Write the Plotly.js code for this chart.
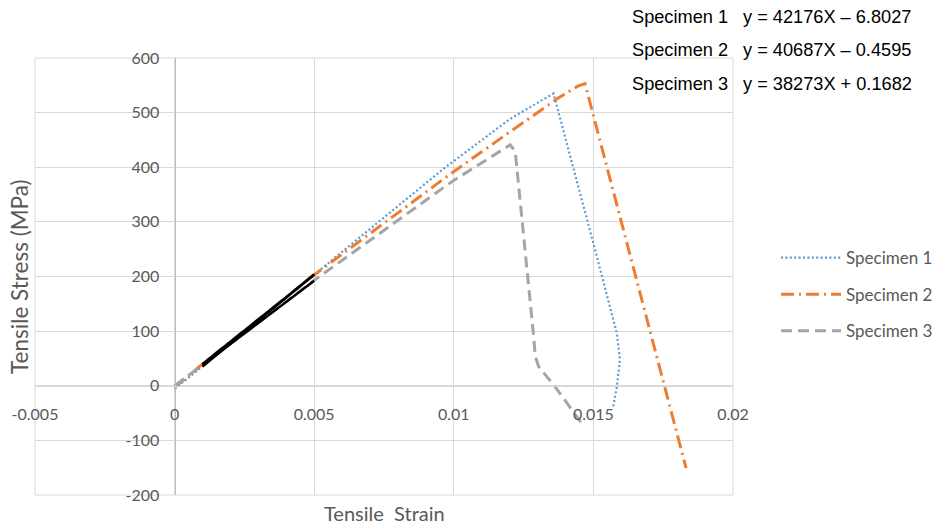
<!DOCTYPE html>
<html>
<head>
<meta charset="utf-8">
<script src="https://cdn.plot.ly/plotly-3.0.1.min.js"></script>
<style>html,body{margin:0;padding:0;background:#fff;}#chart{width:933px;height:529px;}</style>
</head>
<body>
<div id="chart"></div>
<script>
// ---- data ----
const seriesNames = ['Specimen 1', 'Specimen 2', 'Specimen 3'];

const spec1Strain = [0, 0.001, 0.005, 0.0096, 0.012, 0.0133, 0.01357, 0.01369, 0.01446, 0.01506, 0.01584, 0.01595, 0.01584, 0.01571];
const spec1Stress = [-6, 36, 204, 396, 488, 527, 535, 512, 365, 249, 96, 47, -2, -38];

const spec2Strain = [0, 0.001, 0.005, 0.00994, 0.01196, 0.01375, 0.01446, 0.0147, 0.01832];
const spec2Stress = [-3, 40, 203, 390, 463, 527, 549, 553, -151];

const spec3Strain = [0, 0.001, 0.005, 0.00994, 0.01202, 0.0122, 0.01286, 0.01292, 0.01304, 0.01363, 0.01458];
const spec3Stress = [0, 38, 193, 374, 441, 429, 90, 53, 35, -2, -69];

// linear fit segments (black) over the elastic range
const fitStrain = [0.001, 0.005];
const fit1Stress = [35, 204];
const fit2Stress = [40, 203];
const fit3Stress = [38, 192];

const fitNames = ['Specimen 1', 'Specimen 2', 'Specimen 3'];
const fitEquations = ['y = 42176X \u2013 6.8027', 'y = 40687X \u2013 0.4595', 'y = 38273X + 0.1682'];

const xTickVals = [-0.005, 0, 0.005, 0.01, 0.015, 0.02];
const xTickText = ['-0.005', '0', '0.005', '0.01', '0.015', '0.02'];
const yTickVals = [-200, -100, 0, 100, 200, 300, 400, 500, 600];
const yTickText = ['-200', '-100', '0', '100', '200', '300', '400', '500', '600'];

const xTitle = 'Tensile  Strain';
const yTitle = 'Tensile Stress (MPa)';

// ---- styling ----
const colors = ['#5B9BD5', '#ED7D31', '#A5A5A5'];
const grey = '#595959';
const font = 'Lato, "Open Sans", sans-serif';
const eqFont = {family: '"Liberation Sans", Arial, sans-serif', size: 18.2, color: '#000'};

const traces = [
  {x: spec1Strain, y: spec1Stress, name: seriesNames[0], legendgroup: 'g1', mode: 'lines',
   line: {color: colors[0], width: 2.2, dash: '2px,2.4px'}},
  {x: spec2Strain, y: spec2Stress, name: seriesNames[1], legendgroup: 'g2', mode: 'lines',
   line: {color: colors[1], width: 3, dash: '13px,5px,2px,5px'}},
  {x: spec3Strain, y: spec3Stress, name: seriesNames[2], legendgroup: 'g3', mode: 'lines',
   line: {color: colors[2], width: 3, dash: '11px,6px'}},
  {x: fitStrain, y: fit1Stress, mode: 'lines', showlegend: false, line: {color: '#000', width: 2.5}},
  {x: fitStrain, y: fit2Stress, mode: 'lines', showlegend: false, line: {color: '#000', width: 2.5}},
  {x: fitStrain, y: fit3Stress, mode: 'lines', showlegend: false, line: {color: '#000', width: 2.5}}
];

const L = 35, R = 200, T = 58, B = 34;
const plotW = 933 - L - R, plotH = 529 - T - B;
const px2x = p => (p - L) / plotW;
const py2y = p => (529 - B - p) / plotH;

const annotations = [];
for (let i = 0; i < fitNames.length; i++) {
  const yy = py2y([17, 50, 84][i]);
  annotations.push({xref: 'paper', yref: 'paper', x: px2x(630), y: yy, xanchor: 'left', yanchor: 'middle',
    text: fitNames[i], showarrow: false, font: eqFont});
  annotations.push({xref: 'paper', yref: 'paper', x: px2x(741), y: yy, xanchor: 'left', yanchor: 'middle',
    text: fitEquations[i], showarrow: false, font: eqFont});
}
annotations.push({xref: 'paper', yref: 'paper', x: px2x(384), y: py2y(513), xanchor: 'center', yanchor: 'middle',
  text: xTitle.replace('  ', ' \u00a0'), showarrow: false, font: {family: font, size: 20, color: grey}});
annotations.push({xref: 'paper', yref: 'paper', x: px2x(19), y: py2y(277), xanchor: 'center', yanchor: 'middle',
  text: yTitle, textangle: -90, showarrow: false, font: {family: font, size: 22.5, color: grey}});

const layout = {
  width: 933, height: 529,
  margin: {l: L, r: R, t: T, b: B, pad: 0, autoexpand: false},
  paper_bgcolor: '#fff', plot_bgcolor: '#fff',
  showlegend: true,
  legend: {x: px2x(776), xanchor: 'left', y: py2y(240), yanchor: 'top',
    font: {family: font, size: 17, color: grey}, tracegroupgap: 11.5, traceorder: 'grouped',
    itemwidth: 60, bgcolor: 'rgba(0,0,0,0)'},
  xaxis: {range: [-0.005, 0.02], tickvals: xTickVals, ticktext: xTickText,
    anchor: 'free', position: 0.25, showline: true, linecolor: '#D9D9D9', linewidth: 1,
    showgrid: true, gridcolor: '#D9D9D9', gridwidth: 1, zeroline: false, ticks: '',
    ticklabelstandoff: 14,
    tickfont: {family: font, size: 16, color: grey}, fixedrange: true},
  yaxis: {range: [-200, 600], tickvals: yTickVals, ticktext: yTickText,
    anchor: 'free', position: 0.2, showline: true, linecolor: '#BFBFBF', linewidth: 1,
    showgrid: true, gridcolor: '#D9D9D9', gridwidth: 1, zeroline: false, ticks: '',
    ticklabelstandoff: 12,
    tickfont: {family: font, size: 16, color: grey}, fixedrange: true},
  shapes: [{type: 'rect', xref: 'paper', yref: 'paper', x0: 0, y0: 0, x1: 1, y1: 1,
    line: {color: '#D9D9D9', width: 1}, layer: 'below'}],
  annotations: annotations
};

Plotly.newPlot('chart', traces, layout, {displayModeBar: false, staticPlot: true});
</script>
</body>
</html>
